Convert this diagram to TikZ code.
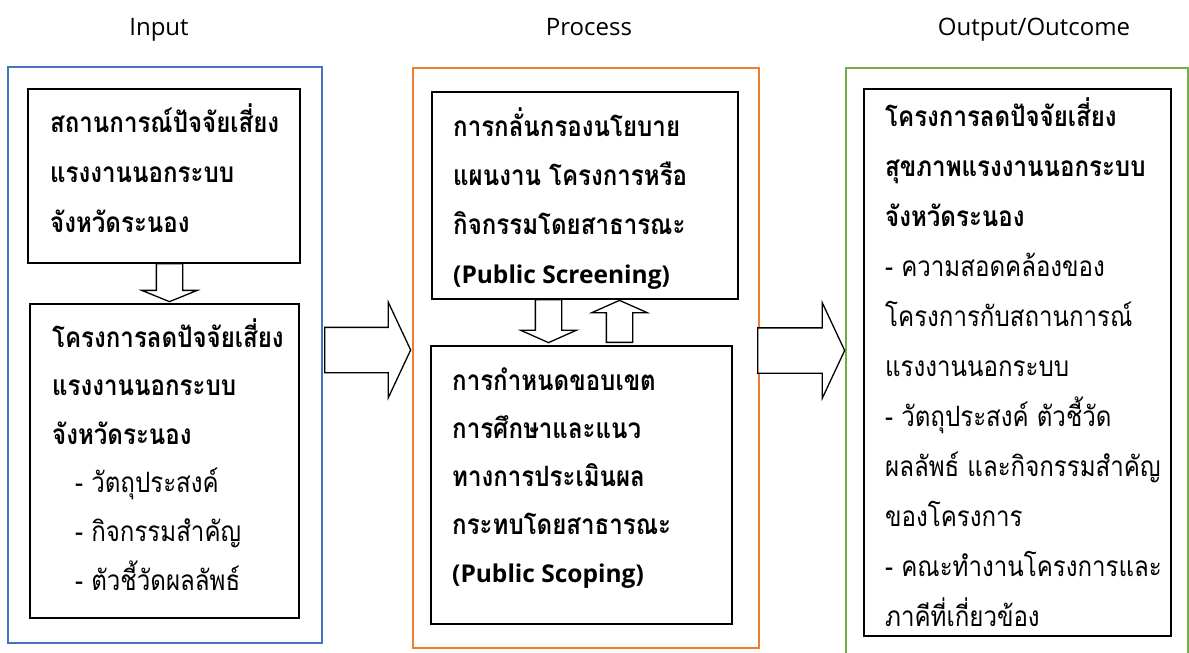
\documentclass[tikz,border=0pt]{standalone}
\usepackage{fontspec}
\setmainfont{Open Sans}
\newfontfamily\thai[Script=Thai, FakeStretch=0.86]{Loma}
\newfontfamily\latin{Open Sans}
\usetikzlibrary{shapes.arrows}
\definecolor{inblue}{HTML}{4472C4}
\definecolor{prorange}{HTML}{ED7D31}
\definecolor{outgreen}{HTML}{70AD47}
\tikzset{
  frame/.style={draw, line width=1.6pt, inner sep=0pt},
  card/.style={draw=black, line width=1.8pt, inner sep=0pt},
  head/.style={font=\latin\fontsize{24}{28}\selectfont, anchor=base, inner sep=0pt},
  blockarrow/.style={draw=black, line width=1.3pt, fill=white, single arrow, single arrow head indent=0pt, anchor=tail},
  body/.style={anchor=base west, align=left, inner sep=0pt},
}
\newcommand{\lat}[1]{{\latin\fontsize{24.5}{30}\selectfont #1}}
\begin{document}
\begin{tikzpicture}[x=1pt,y=-1pt]
\useasboundingbox (0,0) rectangle (1189,653);
% headers
\node[head] (hin) at (159,35) {Input};
\node[head] (hpr) at (589,35) {Process};
\node[head] (hout) at (1034,35) {Output/Outcome};
% frames
\node[frame, draw=inblue, minimum width=314pt, minimum height=576pt] (input) at (165,355) {};
\node[frame, draw=prorange, minimum width=346pt, minimum height=580pt] (process) at (586,358) {};
\node[frame, draw=outgreen, minimum width=342pt, minimum height=612pt] (output) at (1017,374) {};
% cards
\node[card, minimum width=272pt, minimum height=174pt] (in1) at (164,176) {};
\node[card, minimum width=269pt, minimum height=314pt] (in2) at (164.5,461) {};
\node[card, minimum width=306pt, minimum height=207pt] (pr1) at (585,195.5) {};
\node[card, minimum width=301pt, minimum height=278pt] (pr2) at (581.5,485) {};
\node[card, minimum width=307pt, minimum height=547pt] (out1) at (1017.5,362.5) {};
% texts (anchor = baseline of last line)
\node[body, font=\thai\bfseries\fontsize{28}{50}\selectfont] (t1) at (50,232)
  {สถานการณ์ปัจจัยเสี่ยง\\แรงงานนอกระบบ\\จังหวัดระนอง};
\node[body, font=\thai\fontsize{28}{48.6}\selectfont] (t2) at (52,590)
  {\textbf{โครงการลดปัจจัยเสี่ยง}\\\textbf{แรงงานนอกระบบ}\\\textbf{จังหวัดระนอง}\\
   \hspace*{23pt}- วัตถุประสงค์\\\hspace*{23pt}- กิจกรรมสำคัญ\\\hspace*{23pt}- ตัวชี้วัดผลลัพธ์};
\node[body, font=\thai\bfseries\fontsize{28}{48.7}\selectfont] (t3) at (453,283)
  {การกลั่นกรองนโยบาย\\แผนงาน โครงการหรือ\\กิจกรรมโดยสาธารณะ\\\lat{(Public Screening)}};
\node[body, font=\thai\bfseries\fontsize{28}{48}\selectfont] (t4) at (452,582)
  {การกำหนดขอบเขต\\การศึกษาและแนว\\ทางการประเมินผล\\กระทบโดยสาธารณะ\\\lat{(Public Scoping)}};
\node[body, font=\thai\fontsize{28}{50}\selectfont] (t5) at (885,626)
  {\textbf{โครงการลดปัจจัยเสี่ยง}\\\textbf{สุขภาพแรงงานนอกระบบ}\\\textbf{จังหวัดระนอง}\\
   - ความสอดคล้องของ\\โครงการกับสถานการณ์\\แรงงานนอกระบบ\\- วัตถุประสงค์ ตัวชี้วัด\\
   ผลลัพธ์ และกิจกรรมสำคัญ\\ของโครงการ\\- คณะทำงานโครงการและ\\ภาคีที่เกี่ยวข้อง};
% block arrows
\node[blockarrow, minimum height=86pt, minimum width=94pt, inner sep=22pt,
      single arrow head extend=25pt, single arrow tip angle=129.8] (a1) at (324,350) {};
\node[blockarrow, minimum height=87pt, minimum width=94pt, inner sep=22pt,
      single arrow head extend=25pt, single arrow tip angle=129.8] (a2) at (757,350.5) {};
\node[blockarrow, shape border rotate=270, minimum height=38pt, minimum width=54pt, inner sep=12.5pt,
      single arrow head extend=14.5pt, single arrow tip angle=135.7] (a3) at (169.5,263) {};
\node[blockarrow, shape border rotate=270, minimum height=43pt, minimum width=54pt, inner sep=12.5pt,
      single arrow head extend=14.5pt, single arrow tip angle=132] (a4) at (548.5,299) {};
\node[blockarrow, shape border rotate=90, minimum height=42pt, minimum width=54pt, inner sep=12.5pt,
      single arrow head extend=14.5pt, single arrow tip angle=132] (a5) at (619.5,343) {};
\end{tikzpicture}
\end{document}
